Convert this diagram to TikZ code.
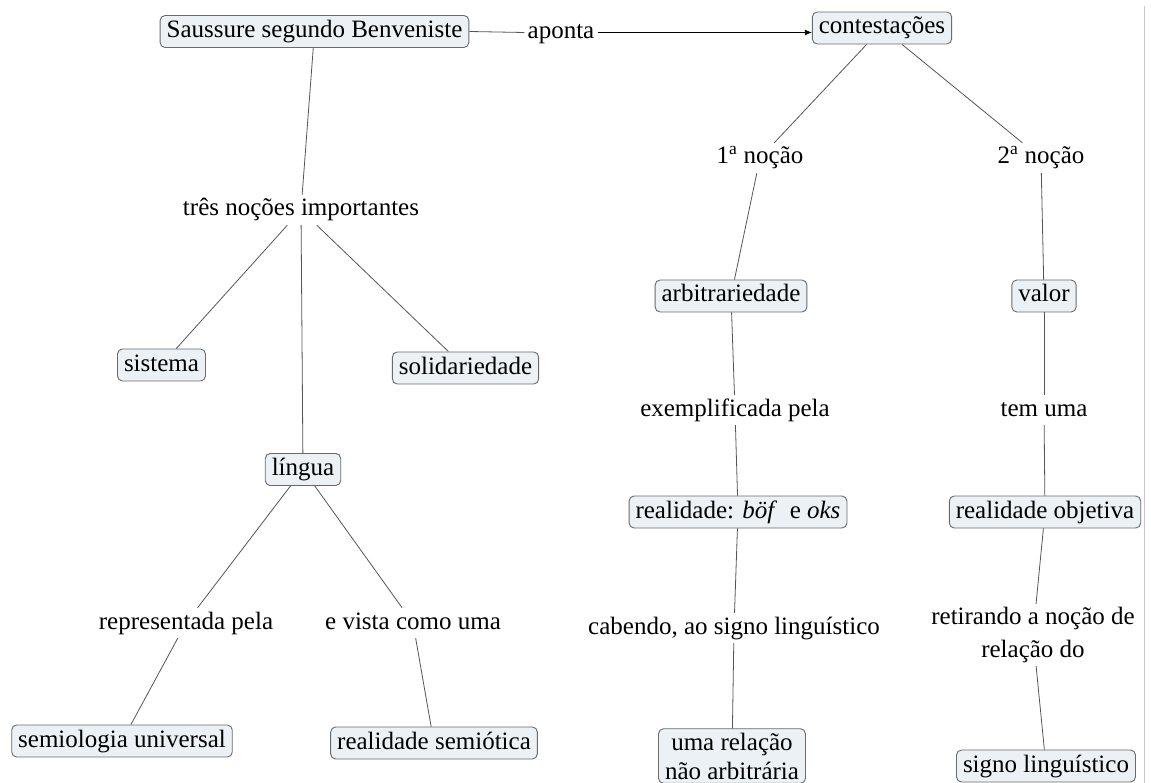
\documentclass[tikz,border=0pt]{standalone}
\usepackage{fontspec}
\setmainfont{Liberation Serif}
\usetikzlibrary{arrows.meta}
\definecolor{boxfill}{HTML}{EBF1F4}
\definecolor{boxline}{HTML}{6A6A6A}
\definecolor{linkline}{HTML}{555555}
\definecolor{edgeline}{HTML}{C8C8C8}
\begin{document}
\begin{tikzpicture}[x=1pt,y=-1pt,
  every node/.style={font=\fontsize{25}{30}\selectfont},
  conceptbase/.style={draw=boxline, fill=boxfill, rounded corners=5pt,
    line width=0.9pt, inner xsep=6.5pt, inner ysep=4pt},
  concept/.style={conceptbase, text height=18pt, text depth=6pt},
  phrase/.style={inner sep=3pt, text height=18pt, text depth=6pt},
  phrasetwo/.style={inner sep=3pt, align=center, font=\fontsize{25}{33}\selectfont},
  link/.style={draw=linkline, line width=0.8pt}]
\fill[white] (0,0) rectangle (1151,783);
\useasboundingbox (0,0) rectangle (1151,783);

% right-hand page edge
\draw[edgeline, line width=1pt] (1144,6) -- (1144,783);

% concepts and linking phrases
\node[concept] (saus) at (314.5,31.5) {Saussure segundo Benveniste};
\node[phrase] (aponta) at (561,32.5) {aponta};
\node[concept] (cont) at (882,28) {contestações};

\node[phrase] (tres) at (301,210) {três noções importantes};
\node[concept] (sist) at (161.5,365) {sistema};
\node[concept] (solid) at (465.5,368) {solidariedade};
\node[concept] (lingua) at (303,469.5) {língua};
\node[phrase] (repr) at (186,623) {representada pela};
\node[phrase] (vista) at (413,623) {e vista como uma};
\node[concept] (semio) at (122,741) {semiologia universal};
\node[concept] (rsemi) at (434,743) {realidade semiótica};

\node[phrase] (n1) at (760,158) {1\textsuperscript{a} noção};
\node[concept] (arb) at (731,296) {arbitrariedade};
\node[phrase] (exemp) at (735,410) {exemplificada pela};
\node[concept] (rboef) at (738,512) {realidade: \textit{böf}\ \ e \textit{oks}};
\node[phrase] (caben) at (734,628) {cabendo, ao signo linguístico};
\node[conceptbase, align=center, font=\fontsize{25}{29}\selectfont] (urel) at (732,756) {uma relação\\não arbitrária};

\node[phrase] (n2) at (1041,158) {2\textsuperscript{a} noção};
\node[concept] (valor) at (1044,296) {valor};
\node[phrase] (temuma) at (1044,410) {tem uma};
\node[concept] (robj) at (1045,512) {realidade objetiva};
\node[phrasetwo] (retir) at (1033,635) {retirando a noção de\\relação do};
\node[concept] (signo) at (1046,766) {signo linguístico};

% connectors
\draw[link] (saus.east) -- (aponta.west);
\draw[link, -{Latex[length=7pt,width=6pt]}, black] (aponta.east) -- (aponta.east -| cont.west);

\draw[link] (saus) -- (tres);
\draw[link] (tres) -- (sist);
\draw[link] (tres) -- (lingua);
\draw[link] (tres) -- (solid);
\draw[link] (lingua) -- (repr);
\draw[link] (repr) -- (semio);
\draw[link] (lingua) -- (vista);
\draw[link] (vista) -- (rsemi);

\draw[link] (cont) -- (n1);
\draw[link] (n1) -- (arb);
\draw[link] (arb) -- (exemp);
\draw[link] (exemp) -- (rboef);
\draw[link] (rboef) -- (caben);
\draw[link] (caben) -- (urel);

\draw[link] (cont) -- (n2);
\draw[link] (n2) -- (valor);
\draw[link] (valor) -- (temuma);
\draw[link] (temuma) -- (robj);
\draw[link] (robj) -- (retir);
\draw[link] (retir) -- (signo);
\end{tikzpicture}
\end{document}
